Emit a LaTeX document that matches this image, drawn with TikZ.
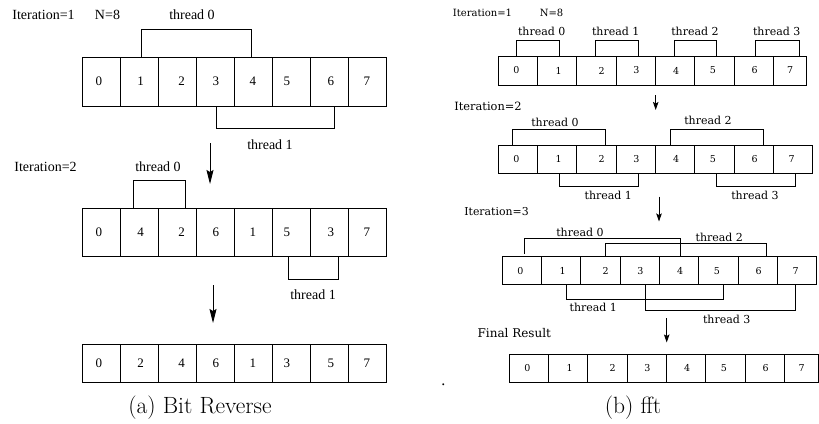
\documentclass[tikz,border=0pt]{standalone}
\usepackage{fontspec}
\newfontfamily\tms{Liberation Serif}
\newfontfamily\dvs{DejaVu Serif}
\usetikzlibrary{arrows.meta}
\begin{document}
\begin{tikzpicture}[x=1pt,y=-1pt,
  lcell/.style={draw, line width=0.8pt, inner sep=0pt, outer sep=0pt, minimum width=38.05pt, font=\tms\fontsize{13}{15}\selectfont},
  rcell/.style={draw, line width=1pt, inner sep=0pt, outer sep=0pt, minimum width=39.3pt, font=\dvs\fontsize{9.5}{11}\selectfont},
  ltxt/.style={inner sep=0pt, font=\tms\fontsize{14}{16}\selectfont},
  rtxt/.style={inner sep=0pt, font=\dvs\fontsize{10}{12}\selectfont},
  rthr/.style={inner sep=0pt, font=\dvs\fontsize{11}{13}\selectfont},
  captxt/.style={inner sep=0pt, anchor=base, font=\fontsize{23.5}{28}\selectfont},
  lbr/.style={line width=0.8pt},
  rbr/.style={line width=0.9pt},
  larr/.style={line width=0.9pt, -{Stealth[length=14pt,width=7pt,inset=2pt]}},
  rarr/.style={line width=1pt, -{Stealth[length=8pt,width=5.5pt,inset=1.5pt]}}
]
\useasboundingbox (0,0) rectangle (819,423);

% ---------------- left panel ----------------
\node[ltxt] (it1) at (43.5,15) {Iteration=1};
\node[ltxt] (n8) at (107.5,15) {N=8};
\foreach \v/\o [count=\i from 0] in {0/-2.5,1/1.3,2/4.3,3/0.3,4/-0.7,5/-4.7,6/1.3,7/-0.7}
  \node[lcell, minimum height=49pt] (A\i) at ({82.3+38.05*(\i+0.5)},81.5) {\hspace*{\o pt}\hspace*{\o pt}\v};
\node[ltxt] (At0) at (192,15) {thread 0};
\draw[lbr] ([xshift=2pt]A1.north) -- ++(0,-28) -| ([xshift=-2pt]A4.north);
\node[ltxt] (At1) at (270,145) {thread 1};
\draw[lbr] ([xshift=1.3pt]A3.south) -- ++(0,22) -| ([xshift=4.3pt]A6.south);

\coordinate (la1s) at (210,143);
\coordinate (la1e) at (210,184);
\draw[larr] (la1s) -- (la1e);

\node[ltxt] (it2) at (45.5,167) {Iteration=2};
\foreach \v/\o [count=\i from 0] in {0/-2.5,4/1.3,2/4.3,6/0.3,1/-0.7,5/-4.7,3/1.3,7/-0.7}
  \node[lcell, minimum height=48pt] (B\i) at ({82.3+38.05*(\i+0.5)},232) {\hspace*{\o pt}\hspace*{\o pt}\v};
\node[ltxt] (Bt0) at (158,167) {thread 0};
\draw[lbr] ([xshift=-5.7pt]B1.north) -- ++(0,-27.7) -| ([xshift=8.3pt]B2.north);
\node[ltxt] (Bt1) at (313,295) {thread 1};
\draw[lbr] ([xshift=-2.7pt]B5.south) -- ++(0,23) -| ([xshift=8.3pt]B6.south);

\coordinate (la2s) at (213,285);
\coordinate (la2e) at (213,323);
\draw[larr] (la2s) -- (la2e);

\foreach \v/\o [count=\i from 0] in {0/-2.5,2/1.3,4/4.3,6/0.3,1/-0.7,3/-4.7,5/1.3,7/-0.7}
  \node[lcell, minimum height=38pt] (C\i) at ({82.3+38.05*(\i+0.5)},363) {\hspace*{\o pt}\hspace*{\o pt}\v};
\node[captxt] (capa) at (200,413) {(a) Bit Reverse};

% ---------------- right panel ----------------
\node[rtxt] (rit1) at (482.5,13) {Iteration=1};
\node[rtxt] (rn8) at (551.5,13) {N=8};
\foreach \v/\o [count=\i from 0] in {0/-1.5,1/1.5,2/5,3/0.5,4/1,5/-1.5,6/1}
  \node[rcell, minimum height=29pt] (P\i) at ({498.3+39.3*(\i+0.5)},70.5) {\hspace*{\o pt}\hspace*{\o pt}\v};
\node[rcell, minimum height=29pt, minimum width=33.3pt] (P7) at (790.05,70.5) {7};
\node[rthr] (Pt0) at (541.7,31.7) {thread 0};
\node[rthr] (Pt1) at (615.7,31.7) {thread 1};
\node[rthr] (Pt2) at (695,31.7) {thread 2};
\node[rthr] (Pt3) at (776.7,31.7) {thread 3};
\draw[rbr] ([xshift=-1.3pt]P0.north) -- ++(0,-15.3) -| ([xshift=2pt]P1.north);
\draw[rbr] ([xshift=-1.6pt]P2.north) -- ++(0,-15.3) -| ([xshift=2.4pt]P3.north);
\draw[rbr] ([xshift=-1.2pt]P4.north) -- ++(0,-15.3) -| ([xshift=2.2pt]P5.north);
\draw[rbr] ([xshift=1.9pt]P6.north) -- ++(0,-15.3) -| ([xshift=9pt]P7.north);

\coordinate (ra1s) at (655.7,95);
\coordinate (ra1e) at (655.7,110);
\draw[rarr] (ra1s) -- (ra1e);

\node[rtxt, font=\dvs\fontsize{11.4}{13}\selectfont] (rit2) at (488,106) {Iteration=2};
\foreach \v/\o [count=\i from 0] in {0/-1.5,1/1.5,2/5,3/0.5,4/1,5/-1.5,6/1,7/-1.5}
  \node[rcell, minimum height=28.3pt] (Q\i) at ({498.3+39.3*(\i+0.5)},159.2) {\hspace*{\o pt}\hspace*{\o pt}\v};
\node[rthr] (Qt0) at (555,122.7) {thread 0};
\node[rthr] (Qt2) at (708,120) {thread 2};
\draw[rbr] ([xshift=-5.3pt]Q0.north) -- ++(0,-15.7) -| ([xshift=9.1pt]Q2.north);
\draw[rbr] ([xshift=-5.2pt]Q4.north) -- ++(0,-15.7) -| ([xshift=9.5pt]Q6.north);
\node[rthr] (Qt1) at (608.3,195.7) {thread 1};
\node[rthr] (Qt3) at (755,195.7) {thread 3};
\draw[rbr] ([xshift=2pt]Q1.south) -- ++(0,13.4) -| ([xshift=2.4pt]Q3.south);
\draw[rbr] ([xshift=2.2pt]Q5.south) -- ++(0,13.4) -| ([xshift=2pt]Q7.south);

\coordinate (ra2s) at (659,196.7);
\coordinate (ra2e) at (659,221.5);
\draw[rarr] (ra2s) -- (ra2e);

\node[rtxt, font=\dvs\fontsize{10.9}{13}\selectfont] (rit3) at (496.5,211.7) {Iteration=3};
\foreach \v/\o [count=\i from 0] in {0/-1.5,1/1.5,2/5,3/0.5,4/1,5/-1.5,6/1,7/-1.5}
  \node[rcell, minimum height=28.3pt] (R\i) at ({502.3+39.3*(\i+0.5)},270.8) {\hspace*{\o pt}\hspace*{\o pt}\v};
\node[rthr] (Rt0) at (580,232.7) {thread 0};
\node[rthr] (Rt2) at (719.3,237.7) {thread 2};
\draw[rbr] ([xshift=2pt,yshift=2.7pt]R0.north) -- ++(0,-15.7) -| ([xshift=1.5pt]R4.north);
\draw[rbr] ([xshift=5.1pt]R2.north) -- ++(0,-13.4) -| ([xshift=8.9pt]R6.north);
\node[rthr] (Rt1) at (593.3,307.7) {thread 1};
\node[rthr] (Rt3) at (726.7,319.3) {thread 3};
\draw[rbr] ([xshift=5.4pt]R1.south) -- ++(0,14.3) -| ([xshift=5.2pt]R5.south);
\draw[rbr] ([xshift=5.1pt]R3.south) -- ++(0,25.7) -| ([xshift=-1.4pt]R7.south);

\coordinate (ra3s) at (666.7,318.3);
\coordinate (ra3e) at (666.7,342.5);
\draw[rarr] (ra3s) -- (ra3e);

\node[rtxt, font=\dvs\fontsize{12}{14}\selectfont] (rfin) at (514.3,332.7) {Final Result};
\foreach \v/\o [count=\i from 0] in {0/-1.5,1/1.5,2/5,3/0.5,4/1,5/-1.5,6/1}
  \node[rcell, minimum height=28pt] (S\i) at ({509.3+39.3*(\i+0.5)},368.3) {\hspace*{\o pt}\hspace*{\o pt}\v};
\node[rcell, minimum height=28pt, minimum width=34.3pt] (S7) at (801.55,368.3) {7};
\node[inner sep=0pt, anchor=base, font=\tms\fontsize{16}{18}\selectfont] (dot) at (443.3,385) {.};
\node[captxt] (capb) at (633,413) {(b) fft};
\end{tikzpicture}
\end{document}
